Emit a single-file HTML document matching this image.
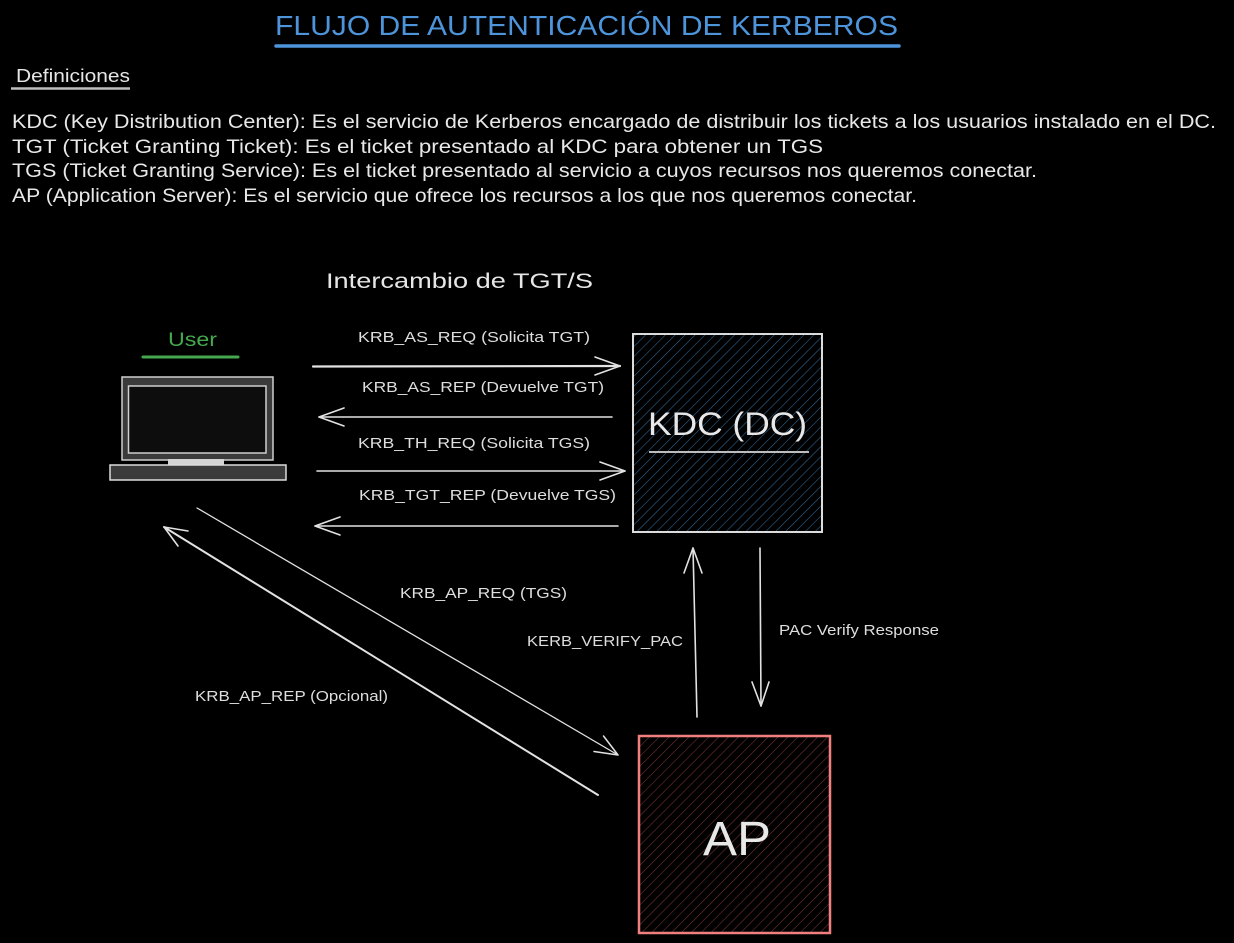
<!DOCTYPE html>
<html><head><meta charset="utf-8"><style>
html,body{margin:0;padding:0;background:#000;}
svg{display:block;}
text{font-family:"Liberation Sans",sans-serif;}
</style></head><body>
<svg width="1234" height="943" viewBox="0 0 1234 943" xmlns="http://www.w3.org/2000/svg">
<defs>
<pattern id="hb" patternUnits="userSpaceOnUse" width="7" height="7" patternTransform="rotate(45)">
<line x1="0" y1="0" x2="0" y2="7" stroke="#2f6a9a" stroke-width="1.1"/>
</pattern>
<pattern id="hr" patternUnits="userSpaceOnUse" width="7" height="7" patternTransform="rotate(45)">
<line x1="0" y1="0" x2="0" y2="7" stroke="#7a3434" stroke-width="1.1"/>
</pattern>
</defs>
<rect width="1234" height="943" fill="#000"/>

<!-- Title -->
<text x="275" y="35" font-size="28" fill="#4d94db" textLength="623" lengthAdjust="spacingAndGlyphs">FLUJO DE AUTENTICACIÓN DE KERBEROS</text>
<line x1="276" y1="46" x2="899" y2="46" stroke="#4d94db" stroke-width="3.5" stroke-linecap="round"/>

<!-- Definiciones -->
<text x="16" y="82" font-size="18" fill="#e6e6e6" textLength="114" lengthAdjust="spacingAndGlyphs">Definiciones</text>
<line x1="11" y1="88.5" x2="130" y2="88.5" stroke="#bdbdbd" stroke-width="2.5"/>

<g font-size="19.5" fill="#e8e8e8">
<text x="12" y="128" textLength="1204" lengthAdjust="spacingAndGlyphs">KDC (Key Distribution Center): Es el servicio de Kerberos encargado de distribuir los tickets a los usuarios instalado en el DC.</text>
<text x="12" y="153" textLength="811" lengthAdjust="spacingAndGlyphs">TGT (Ticket Granting Ticket): Es el ticket presentado al KDC para obtener un TGS</text>
<text x="12" y="177" textLength="1025" lengthAdjust="spacingAndGlyphs">TGS (Ticket Granting Service): Es el ticket presentado al servicio a cuyos recursos nos queremos conectar.</text>
<text x="12" y="202" textLength="905" lengthAdjust="spacingAndGlyphs">AP (Application Server): Es el servicio que ofrece los recursos a los que nos queremos conectar.</text>
</g>

<!-- Intercambio -->
<text x="326" y="288" font-size="21" fill="#e6e6e6" textLength="267" lengthAdjust="spacingAndGlyphs">Intercambio de TGT/S</text>

<!-- User -->
<text x="168" y="346" font-size="19" fill="#45a84f" textLength="49" lengthAdjust="spacingAndGlyphs">User</text>
<line x1="143" y1="357" x2="238" y2="357" stroke="#45a84f" stroke-width="3" stroke-linecap="round"/>

<!-- Laptop -->
<rect x="122" y="377" width="151" height="83" fill="#3b3b3b" stroke="#cfcfcf" stroke-width="1.5"/>
<rect x="128.5" y="386" width="137.5" height="67" fill="#0d0d0d" stroke="#cfcfcf" stroke-width="1.5"/>
<rect x="168" y="459" width="56" height="7" fill="#d4d4d4"/>
<rect x="110" y="465" width="176" height="15" fill="#3b3b3b" stroke="#dcdcdc" stroke-width="1.5"/>

<!-- KDC box -->
<rect x="633" y="334" width="189" height="198" fill="url(#hb)" stroke="#dcdcdc" stroke-width="2"/>
<text x="648" y="435" font-size="32" fill="#e8e8e8" textLength="159" lengthAdjust="spacingAndGlyphs">KDC (DC)</text>
<line x1="649" y1="452" x2="809" y2="452" stroke="#bdbdbd" stroke-width="2"/>

<!-- AP box -->
<rect x="639" y="736" width="191" height="197" fill="url(#hr)" stroke="#f08080" stroke-width="2.5"/>
<text x="703" y="855" font-size="48" fill="#e8e8e8" textLength="68" lengthAdjust="spacingAndGlyphs">AP</text>

<!-- Arrow labels -->
<g font-size="15" fill="#dedede">
<text x="358" y="342" textLength="232" lengthAdjust="spacingAndGlyphs">KRB_AS_REQ (Solicita TGT)</text>
<text x="362" y="392" textLength="242" lengthAdjust="spacingAndGlyphs">KRB_AS_REP (Devuelve TGT)</text>
<text x="358" y="448" textLength="232" lengthAdjust="spacingAndGlyphs">KRB_TH_REQ (Solicita TGS)</text>
<text x="359" y="500" textLength="257" lengthAdjust="spacingAndGlyphs">KRB_TGT_REP (Devuelve TGS)</text>
<text x="400" y="598" textLength="167" lengthAdjust="spacingAndGlyphs">KRB_AP_REQ (TGS)</text>
<text x="527" y="646" textLength="156" lengthAdjust="spacingAndGlyphs">KERB_VERIFY_PAC</text>
<text x="779" y="635" textLength="160" lengthAdjust="spacingAndGlyphs">PAC Verify Response</text>
<text x="195" y="701" textLength="193" lengthAdjust="spacingAndGlyphs">KRB_AP_REP (Opcional)</text>
</g>

<!-- Arrows -->
<g stroke="#e2e2e2" fill="none" stroke-linecap="round" stroke-linejoin="round">
<line x1="313" y1="366.5" x2="620" y2="366" stroke-width="2.2"/>
<polyline points="595,357 620,366 595,375" stroke-width="1.6"/>

<line x1="612" y1="417" x2="319" y2="417" stroke-width="1.6"/>
<polyline points="344,408 319,417 344,426" stroke-width="1.6"/>

<line x1="317" y1="471" x2="625" y2="471" stroke-width="1.6"/>
<polyline points="600,462 625,471 600,480" stroke-width="1.6"/>

<line x1="618" y1="526" x2="315" y2="526" stroke-width="1.6"/>
<polyline points="340,517 315,526 340,535" stroke-width="1.6"/>

<line x1="197" y1="508" x2="618" y2="755" stroke-width="1.3"/>
<polyline points="594,751.5 618,755 603.5,736" stroke-width="1.5"/>

<line x1="598" y1="795" x2="164" y2="527" stroke-width="2"/>
<polyline points="178,546 164,527 188,531" stroke-width="1.6"/>

<line x1="697" y1="717" x2="693" y2="548" stroke-width="1.6"/>
<polyline points="684,573 693,548 702,573" stroke-width="1.6"/>

<line x1="760" y1="548" x2="761" y2="706" stroke-width="1.6"/>
<polyline points="752,682 761,706 769,682" stroke-width="1.6"/>
</g>
</svg>
</body></html>
